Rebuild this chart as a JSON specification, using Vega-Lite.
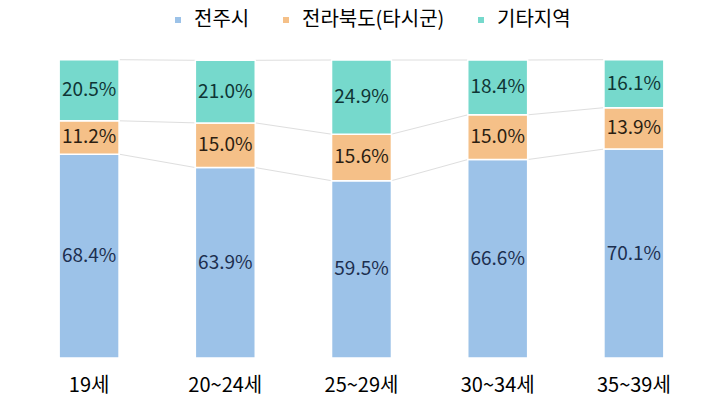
{
  "$schema": "https://vega.github.io/schema/vega-lite/v6.json",
  "autosize": "none",
  "width": 681,
  "height": 298,
  "padding": {"left": 21, "top": 60, "right": 13, "bottom": 50},
  "background": "white",
  "config": {"view": {"stroke": null}, "font": "Noto Sans CJK KR"},
  "data": {"values": [
    {"cat": "19세", "series": "전주시", "value": 0.684},
    {"cat": "19세", "series": "전라북도(타시군)", "value": 0.112},
    {"cat": "19세", "series": "기타지역", "value": 0.205},
    {"cat": "20~24세", "series": "전주시", "value": 0.639},
    {"cat": "20~24세", "series": "전라북도(타시군)", "value": 0.150},
    {"cat": "20~24세", "series": "기타지역", "value": 0.210},
    {"cat": "25~29세", "series": "전주시", "value": 0.595},
    {"cat": "25~29세", "series": "전라북도(타시군)", "value": 0.156},
    {"cat": "25~29세", "series": "기타지역", "value": 0.249},
    {"cat": "30~34세", "series": "전주시", "value": 0.666},
    {"cat": "30~34세", "series": "전라북도(타시군)", "value": 0.150},
    {"cat": "30~34세", "series": "기타지역", "value": 0.184},
    {"cat": "35~39세", "series": "전주시", "value": 0.701},
    {"cat": "35~39세", "series": "전라북도(타시군)", "value": 0.139},
    {"cat": "35~39세", "series": "기타지역", "value": 0.161}
  ]},
  "encoding": {
    "x": {
      "field": "cat", "type": "nominal", "sort": null,
      "scale": {"paddingInner": 0.56, "paddingOuter": 0.28},
      "axis": {"title": null, "domain": false, "ticks": false, "labelAngle": 0, "labelPadding": 17, "labelFontSize": 20, "labelColor": "#000000", "labelFont": "Noto Sans CJK KR"}
    }
  },
  "layer": [
    {
      "transform": [
        {"stack": "value", "groupby": ["cat"], "sort": [{"field": "series", "order": "descending"}], "as": ["v0", "v1"]},
        {"window": [{"op": "lead", "field": "v1", "as": "nv1"}, {"op": "lead", "field": "cat", "as": "ncat"}], "groupby": ["series"], "sort": [{"field": "cat", "order": "ascending"}]},
        {"filter": "datum.ncat != null"}
      ],
      "mark": {"type": "rule", "color": "#dedede", "strokeWidth": 1},
      "encoding": {
        "x": {"field": "cat", "type": "nominal", "sort": null, "bandPosition": 1},
        "x2": {"field": "ncat", "bandPosition": 0},
        "y": {"field": "v1", "type": "quantitative", "scale": {"domain": [0, 1]}, "axis": null},
        "y2": {"field": "nv1"}
      }
    },
    {
      "mark": {"type": "bar", "stroke": "white", "strokeWidth": 1.5},
      "encoding": {
        "y": {"field": "value", "type": "quantitative", "stack": "zero", "scale": {"domain": [0, 1]}, "axis": null},
        "order": {"field": "series", "sort": "descending"},
        "color": {
          "field": "series", "type": "nominal",
          "scale": {"domain": ["전주시", "전라북도(타시군)", "기타지역"], "range": ["#9cc2e8", "#f5c088", "#76d9cc"]},
          "legend": {
            "title": null, "orient": "none", "direction": "horizontal",
            "legendX": 147, "legendY": -50,
            "symbolType": "square", "symbolSize": 36, "symbolStrokeWidth": 0,
            "labelFontSize": 20, "labelFont": "Noto Sans CJK KR", "labelColor": "#000000",
            "labelOffset": 6, "columnPadding": 26
          }
        }
      }
    },
    {
      "mark": {"type": "text", "fontSize": 19, "font": "Noto Sans CJK KR"},
      "encoding": {
        "y": {"field": "value", "type": "quantitative", "stack": "zero", "bandPosition": 0.5},
        "order": {"field": "series", "sort": "descending"},
        "text": {"field": "value", "type": "quantitative", "format": ".1%"},
        "fill": {
          "field": "series", "type": "nominal", "legend": null,
          "scale": {"domain": ["전주시", "전라북도(타시군)", "기타지역"], "range": ["#1c2f4f", "#2b1e12", "#0f3535"]}
        }
      }
    }
  ]
}
